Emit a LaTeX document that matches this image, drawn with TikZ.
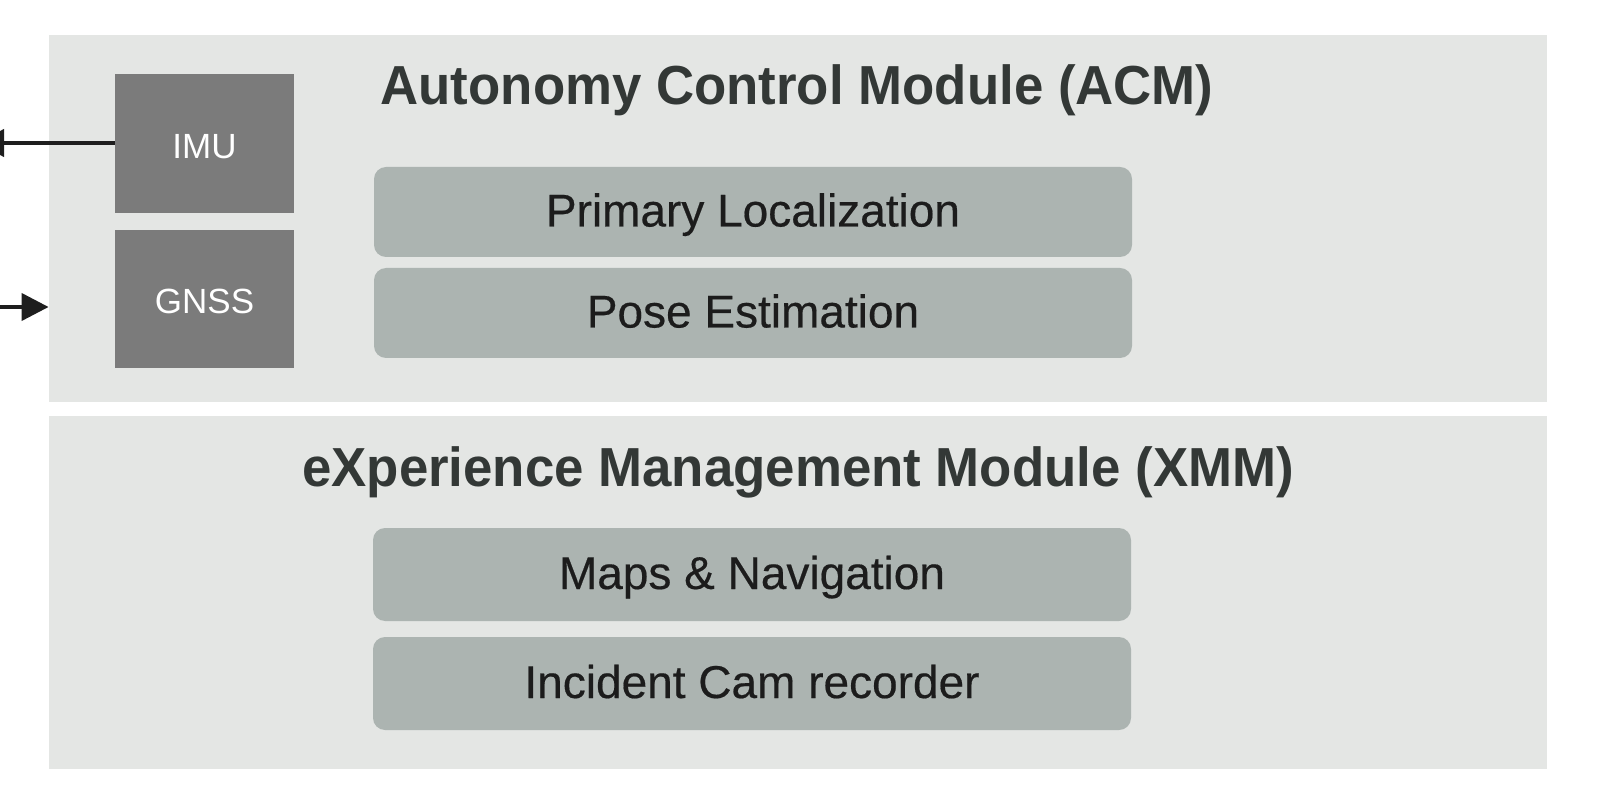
\documentclass[tikz,border=0pt]{standalone}
\usepackage{fontspec}
\setmainfont{Liberation Sans}
\newfontfamily\titlefont[FakeStretch=0.96]{Liberation Sans}
\newfontfamily\boxfont[FakeBold=0.4]{Liberation Sans}
\usetikzlibrary{arrows.meta}
\definecolor{panelbg}{HTML}{E4E6E4}
\definecolor{boxbg}{HTML}{ACB4B1}
\definecolor{darkbox}{HTML}{7B7B7B}
\definecolor{titletxt}{HTML}{333836}
\definecolor{boxtxt}{HTML}{1C1C1C}
\definecolor{arrowc}{HTML}{1E1E1E}
\tikzset{
  panel/.style={fill=panelbg, draw=none, inner sep=0pt},
  sensor/.style={fill=darkbox, draw=none, inner sep=0pt, text=white,
    font=\fontsize{17.5pt}{20pt}\selectfont, text height=15pt, text depth=0pt},
  func/.style={fill=boxbg, draw=none, rounded corners=6pt, inner sep=0pt,
    minimum width=379pt, text=boxtxt,
    font=\boxfont\fontsize{23pt}{27pt}\selectfont, text height=14.5pt, text depth=0pt},
  paneltitle/.style={text=titletxt, inner sep=0pt, anchor=base,
    font=\titlefont\bfseries\fontsize{27.5pt}{32pt}\selectfont},
  conn/.style={draw=arrowc, line width=2pt, -{Triangle[length=13.5pt,width=13.5pt]}}
}
\begin{document}
\begin{tikzpicture}[x=0.5pt, y=-0.5pt]
\useasboundingbox (0,0) rectangle (1598,806);
\clip (0,0) rectangle (1598,806);
% panels
\node[panel, minimum width=749pt, minimum height=183.5pt] (acm) at (798,218.5) {};
\node[panel, minimum width=749pt, minimum height=176.5pt] (xmm) at (798,592.5) {};
% titles
\node[paneltitle] (acmtitle) at (797,105) {Autonomy Control Module (ACM)};
\node[paneltitle] (xmmtitle) at (798,486) {eXperience Management Module (XMM)};
% sensors
\node[sensor, minimum width=89.5pt, minimum height=69.5pt] (imu) at (204.5,143.5) {IMU};
\node[sensor, minimum width=89.5pt, minimum height=69pt] (gnss) at (204.5,299) {GNSS};
% functional boxes
\node[func, minimum height=45pt] (pl) at (753,212) {Primary Localization};
\node[func, minimum height=45pt] (pe) at (753,313) {Pose Estimation};
\node[func, minimum height=46.5pt] (mn) at (752,574.5) {Maps \& Navigation};
\node[func, minimum height=46.5pt] (ic) at (752,683.5) {Incident Cam recorder};
% connectors
\coordinate (imuout) at (-23,143);
\coordinate (gnssin) at (-10,307);
\draw[conn] (imu.west |- imuout) -- (imuout);
\draw[conn] (gnssin) -- (acm.west |- gnssin);
\end{tikzpicture}
\end{document}
